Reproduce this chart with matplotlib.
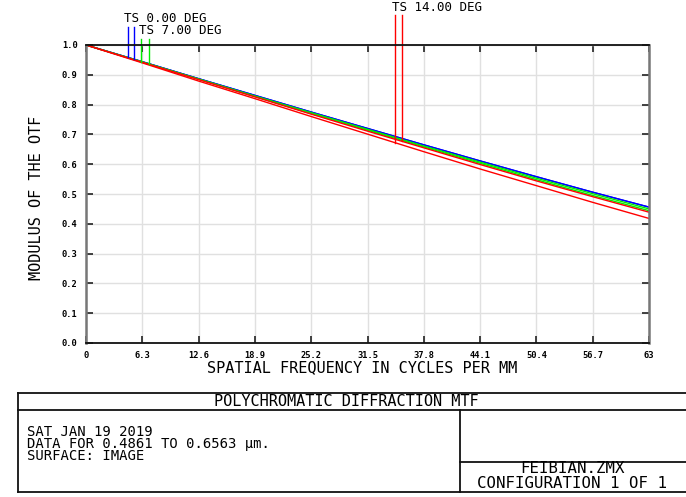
import matplotlib
matplotlib.use("Agg")
import matplotlib.pyplot as plt
from matplotlib.lines import Line2D
import numpy as np

# Spatial frequency samples (cycles/mm) and MTF per field / orientation
freq = [0.0, 6.3, 12.6, 18.9, 25.2, 31.5, 37.8, 44.1, 50.4, 56.7, 63.0]
mtf_0_t = [1.000, 0.944, 0.887, 0.831, 0.775, 0.720, 0.665, 0.611, 0.558, 0.506, 0.456]
mtf_0_s = [1.000, 0.944, 0.887, 0.831, 0.775, 0.720, 0.665, 0.611, 0.558, 0.506, 0.456]
mtf_7_t = [1.000, 0.943, 0.886, 0.829, 0.773, 0.717, 0.661, 0.607, 0.553, 0.501, 0.450]
mtf_7_s = [1.000, 0.943, 0.885, 0.827, 0.770, 0.714, 0.658, 0.603, 0.548, 0.495, 0.444]
mtf_14_t = [1.000, 0.942, 0.884, 0.826, 0.768, 0.711, 0.655, 0.599, 0.544, 0.491, 0.439]
mtf_14_s = [1.000, 0.940, 0.879, 0.820, 0.760, 0.701, 0.642, 0.584, 0.528, 0.472, 0.418]

x_ticks = [0, 6.3, 12.6, 18.9, 25.2, 31.5, 37.8, 44.1, 50.4, 56.7, 63]
x_tick_labels = ["0", "6.3", "12.6", "18.9", "25.2", "31.5", "37.8", "44.1", "50.4", "56.7", "63"]
y_ticks = [0.0, 0.1, 0.2, 0.3, 0.4, 0.5, 0.6, 0.7, 0.8, 0.9, 1.0]
y_tick_labels = ["0.0", "0.1", "0.2", "0.3", "0.4", "0.5", "0.6", "0.7", "0.8", "0.9", "1.0"]

field_labels = ["TS 0.00 DEG", "TS 7.00 DEG", "TS 14.00 DEG"]
field_colors = ["#0000ff", "#00ee00", "#ff0000"]

W, H = 686, 497
MONO = "DejaVu Sans Mono"

fig = plt.figure(figsize=(W / 100, H / 100), dpi=100)
fig.patch.set_facecolor("white")


def fx(px):
    return px / W


def fy(py):
    return 1 - py / H


ax = fig.add_axes([fx(86), fy(343), (649 - 86) / W, (343 - 45) / H])
ax.set_xlim(0, 63)
ax.set_ylim(0, 1)

ax.set_xticks(x_ticks)
ax.set_xticklabels(x_tick_labels, fontfamily=MONO, fontsize=6.3, fontweight="bold")
ax.set_yticks(y_ticks)
ax.set_yticklabels(y_tick_labels, fontfamily=MONO, fontsize=6.3, fontweight="bold")
ax.tick_params(direction="in", length=5, width=1.2, color="#222222",
               top=True, right=True, pad=6)
ax.grid(True, color="#e0e0e0", linewidth=1)
ax.set_axisbelow(True)

for side in ("top", "bottom"):
    ax.spines[side].set_color("#111111")
    ax.spines[side].set_linewidth(1.3)
for side in ("left", "right"):
    ax.spines[side].set_color("#777777")
    ax.spines[side].set_linewidth(1.8)

# curves: each field drawn as tangential + sagittal pair
series = [
    (mtf_0_t, mtf_0_s, field_colors[0]),
    (mtf_7_t, mtf_7_s, field_colors[1]),
    (mtf_14_t, mtf_14_s, field_colors[2]),
]
for t, s, c in series:
    ax.plot(freq, s, color=c, linewidth=1.0)
    ax.plot(freq, t, color=c, linewidth=1.0)

# field identifier leaders: vertical line from label down to the curve
leader_freq = [(4.67, 5.40), (6.19, 7.02), (34.61, 35.39)]
leader_top = [1.0604, 1.0201, 1.1007]
label_pos = [(4.25, 1.0906), (5.93, 1.0503), (34.24, 1.1275)]
for (t, s, c), (f1, f2), top, (lx, ly), name in zip(series, leader_freq, leader_top,
                                                     label_pos, field_labels):
    y1 = np.interp(f1, freq, s)
    y2 = np.interp(f2, freq, t)
    ax.plot([f1, f1], [y1, top], color=c, linewidth=1.0, clip_on=False)
    ax.plot([f2, f2], [y2, top], color=c, linewidth=1.0, clip_on=False)
    ax.text(lx, ly, name, fontfamily=MONO, fontsize=9, ha="left", va="center",
            clip_on=False)

fig.text(fx(362), fy(368), "SPATIAL FREQUENCY IN CYCLES PER MM", fontfamily=MONO,
         fontsize=11, ha="center", va="center")
fig.text(fx(37), fy(198), "MODULUS OF THE OTF", fontfamily=MONO, fontsize=11,
         ha="center", va="center", rotation=90)

# title block
box_lines = [
    ((18, 686), (393, 393)),
    ((18, 686), (410, 410)),
    ((18, 686), (492, 492)),
    ((18, 18), (393, 492)),
    ((460, 460), (410, 492)),
    ((460, 686), (462, 462)),
]
for xs, ys in box_lines:
    fig.add_artist(Line2D([fx(v) for v in xs], [fy(v) for v in ys],
                          color="#111111", linewidth=1.3))

fig.text(fx(346), fy(401.5), "POLYCHROMATIC DIFFRACTION MTF", fontfamily=MONO,
         fontsize=11, ha="center", va="center")
info_lines = ["SAT JAN 19 2019", "DATA FOR 0.4861 TO 0.6563 µm.", "SURFACE: IMAGE"]
fig.text(fx(27), fy(444), "\n".join(info_lines), fontfamily=MONO, fontsize=10,
         ha="left", va="center", linespacing=0.78)
fig.text(fx(572), fy(476), "FEIBIAN.ZMX\nCONFIGURATION 1 OF 1", fontfamily=MONO,
         fontsize=11.3, ha="center", va="center", linespacing=0.95)

fig.savefig("out.png", dpi=100, facecolor="white")
